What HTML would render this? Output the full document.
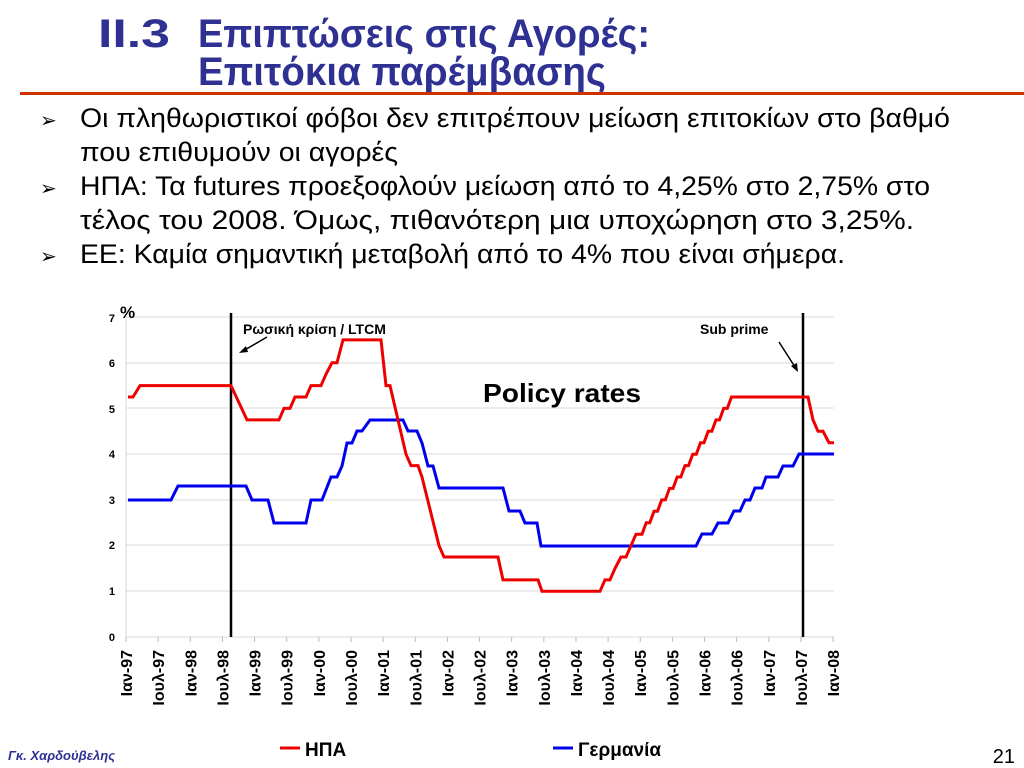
<!DOCTYPE html>
<html><head><meta charset="utf-8"><style>
html,body{margin:0;padding:0;background:#fff;}
svg{display:block;font-family:"Liberation Sans",Arial,sans-serif;}
</style></head><body>
<svg width="1024" height="768" viewBox="0 0 1024 768" xmlns="http://www.w3.org/2000/svg">
<g fill="#2E3192" font-weight="bold" font-size="40">
<text x="98" y="47" textLength="72" lengthAdjust="spacingAndGlyphs">II.3</text>
<text x="198" y="47" textLength="452" lengthAdjust="spacingAndGlyphs">Επιπτώσεις στις Αγορές:</text>
<text x="198" y="85" textLength="408" lengthAdjust="spacingAndGlyphs">Επιτόκια παρέμβασης</text>
</g>
<rect x="20" y="92" width="1004" height="3" fill="#CC3300"/>
<g font-size="27" fill="#000">
<text x="40" y="127" font-size="20">➢</text>
<text x="80" y="127" textLength="870" lengthAdjust="spacingAndGlyphs">Οι πληθωριστικοί φόβοι δεν επιτρέπουν μείωση επιτοκίων στο βαθμό</text>
<text x="80" y="161" textLength="318" lengthAdjust="spacingAndGlyphs">που επιθυμούν οι αγορές</text>
<text x="40" y="195" font-size="20">➢</text>
<text x="80" y="195" textLength="850" lengthAdjust="spacingAndGlyphs">ΗΠΑ: Τα futures προεξοφλούν μείωση από το 4,25% στο 2,75% στο</text>
<text x="80" y="229" textLength="834" lengthAdjust="spacingAndGlyphs">τέλος του 2008.  Όμως, πιθανότερη μια υποχώρηση στο 3,25%.</text>
<text x="40" y="263" font-size="20">➢</text>
<text x="80" y="263" textLength="765" lengthAdjust="spacingAndGlyphs">ΕΕ: Καμία σημαντική μεταβολή από το 4% που είναι σήμερα.</text>
</g>
<g stroke="#d9d9d9" stroke-width="1">
<line x1="126" y1="317" x2="834" y2="317"/><line x1="126" y1="363" x2="834" y2="363"/>
<line x1="126" y1="408" x2="834" y2="408"/><line x1="126" y1="454" x2="834" y2="454"/>
<line x1="126" y1="500" x2="834" y2="500"/><line x1="126" y1="545" x2="834" y2="545"/>
<line x1="126" y1="591" x2="834" y2="591"/><line x1="126" y1="637" x2="834" y2="637"/>
<line x1="126" y1="317" x2="126" y2="637"/>
</g>
<g id="ticks" stroke="#bbb"></g>
<g font-size="11" font-weight="bold" text-anchor="end">
<text x="115" y="322">7</text><text x="115" y="367">6</text><text x="115" y="413">5</text>
<text x="115" y="458">4</text><text x="115" y="504">3</text><text x="115" y="549">2</text>
<text x="115" y="595">1</text><text x="115" y="641">0</text>
</g>
<text x="120" y="318" font-size="17" font-weight="bold">%</text>
<g id="xl" font-size="16" font-weight="bold" text-anchor="end"></g>
<line x1="231" y1="313" x2="231" y2="637" stroke="#000" stroke-width="2.5"/>
<line x1="803" y1="313" x2="803" y2="637" stroke="#000" stroke-width="2.5"/>
<polyline fill="none" stroke="#0000EE" stroke-width="3" points="128,500 171,500 178,486 246,486 252,500 268,500 274,523 306,523 311,500 322,500 331,477 337,477 342,466 347,443 352,443 357,431 362,431 370,420 403,420 408,431 417,431 422,443 428,466 433,466 439,488 503,488 509,511 520,511 525,523 537,523 541,546 696,546 702,534 712,534 718,523 728,523 734,511 740,511 745,500 750,500 755,488 762,488 766,477 778,477 783,466 793,466 799,454 834,454"/>
<polyline id="red" fill="none" stroke="#EE0000" stroke-width="3" points=""/>
<text x="243" y="334" font-size="14" font-weight="bold">Ρωσική κρίση / LTCM</text>
<line x1="267" y1="337" x2="243" y2="351" stroke="#000" stroke-width="1.5"/>
<polygon points="239,353 246,346 248,352" fill="#000"/>
<text x="700" y="334" font-size="14" font-weight="bold">Sub prime</text>
<line x1="779" y1="342" x2="795" y2="367" stroke="#000" stroke-width="1.5"/>
<polygon points="798,372 791,366 797,363" fill="#000"/>
<text x="483" y="402" font-size="26" font-weight="bold" textLength="158" lengthAdjust="spacingAndGlyphs">Policy rates</text>
<line x1="280" y1="748" x2="300" y2="748" stroke="#EE0000" stroke-width="3"/>
<text x="305" y="756" font-size="19" font-weight="bold">ΗΠΑ</text>
<line x1="553" y1="748" x2="573" y2="748" stroke="#0000EE" stroke-width="3"/>
<text x="578" y="756" font-size="19" font-weight="bold">Γερμανία</text>
<text x="8" y="760" font-size="13" font-weight="bold" font-style="italic" fill="#2E3192">Γκ. Χαρδούβελης</text>
<text x="1015" y="763" font-size="20" text-anchor="end">21</text>
</svg>
<script>
var ns="http://www.w3.org/2000/svg";
var labs=["Ιαν-97","Ιουλ-97","Ιαν-98","Ιουλ-98","Ιαν-99","Ιουλ-99","Ιαν-00","Ιουλ-00","Ιαν-01","Ιουλ-01","Ιαν-02","Ιουλ-02","Ιαν-03","Ιουλ-03","Ιαν-04","Ιουλ-04","Ιαν-05","Ιουλ-05","Ιαν-06","Ιουλ-06","Ιαν-07","Ιουλ-07","Ιαν-08"];
var xl=document.getElementById("xl"),tk=document.getElementById("ticks");
labs.forEach(function(l,i){var x=126+i*32.14;
var t=document.createElementNS(ns,"text");t.setAttribute("transform","translate("+(x+6)+",650) rotate(-90)");t.textContent=l;xl.appendChild(t);
var ln=document.createElementNS(ns,"line");ln.setAttribute("x1",x);ln.setAttribute("x2",x);ln.setAttribute("y1",637);ln.setAttribute("y2",642);tk.appendChild(ln);});
function Y(v){return 637-45.71*v;}
var p=[[128,5.25],[133,5.25],[140,5.5],[231,5.5],[247,4.75],[279,4.75],[284,5],[290,5],[295,5.25],[306,5.25],[311,5.5],[321,5.5],[326,5.75],[332,6],[337,6],[343,6.5],[381,6.5],[386,5.5],[390,5.5],[406,4],[411,3.75],[418,3.75],[422,3.5],[439,2],[444,1.75],[498,1.75],[503,1.25],[538,1.25],[542,1],[600,1],[605,1.25],[610,1.25],[615,1.5],[621,1.75],[626,1.75],[631,2],[636,2.25],[642,2.25]];
var v=2.25,x=642;while(v<5.25){x+=4.2;v+=0.25;p.push([x,v]);x+=3.55;p.push([x,v]);}
p.push([808,5.25],[813,4.75],[818,4.5],[823,4.5],[829,4.25],[834,4.25]);
document.getElementById("red").setAttribute("points",p.map(function(a){return a[0].toFixed(1)+","+Y(a[1]).toFixed(1)}).join(" "));
</script>
</body></html>
